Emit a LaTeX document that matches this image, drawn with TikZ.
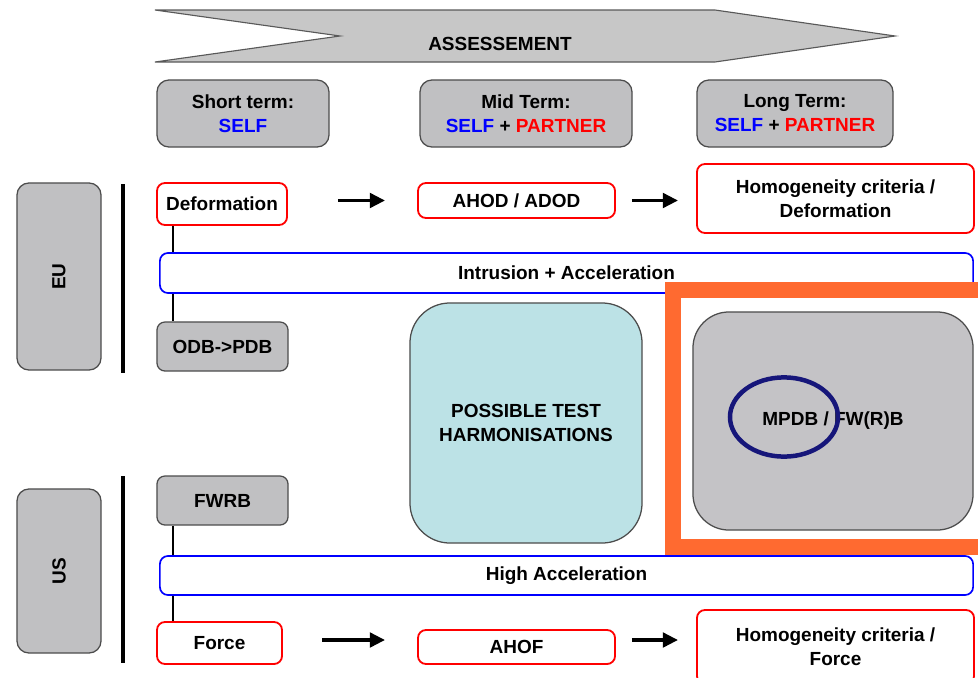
\documentclass[tikz,border=0pt]{standalone}
\usepackage{fontspec}
\setmainfont{Liberation Sans}
\usetikzlibrary{arrows.meta}

\begin{document}
\begin{tikzpicture}[x=0.025cm,y=-0.025cm,
  every node/.style={font=\fontsize{13.5}{17}\selectfont\bfseries, align=center, inner sep=0pt},
  redbox/.style={draw=red, line width=1.3pt, rounded corners=0.2cm, fill=white},
  bluebox/.style={draw=blue, line width=1.2pt, rounded corners=0.2cm, fill=white},
  graybox/.style={draw=black!70, line width=0.9pt, rounded corners=0.3cm, fill=boxgray},
  link/.style={line width=2pt},
  sepline/.style={line width=2.2pt},
  arr/.style={line width=2.6pt, -{Triangle[length=3.8mm,width=3.6mm]}}
]

% Define colors
\definecolor{boxgray}{RGB}{192,192,194}
\definecolor{biggray}{RGB}{196,195,198}
\definecolor{teal1}{RGB}{188,226,230}
\definecolor{frameorange}{RGB}{255,106,48}
\definecolor{navy1}{RGB}{22,22,122}
\definecolor{self}{RGB}{0,0,255}
\definecolor{partner}{RGB}{255,0,0}

\useasboundingbox (0,0) rectangle (978,677);

% Assessment banner
\coordinate (BA) at (155,10);
\coordinate (BB) at (715,10);
\coordinate (BC) at (895,36);
\coordinate (BD) at (715,62);
\coordinate (BE) at (155,62);
\coordinate (BF) at (340,36);
\draw[fill=black!22, draw=black!65, line width=0.8pt] (BA) -- (BB) -- (BC) -- (BD) -- (BE) -- (BF) -- cycle;
\node (assess) at (500,44) {ASSESSEMENT};

% Time scale boxes
\node[graybox, minimum width=4.3cm, minimum height=1.675cm] (short) at (243,113.5) {Short term:\\\textcolor{self}{SELF}};
\node[graybox, minimum width=5.3cm, minimum height=1.675cm] (mid) at (526,113.5) {Mid Term:\\\textcolor{self}{SELF} + \textcolor{partner}{PARTNER}};
\node[graybox, minimum width=4.9cm, minimum height=1.675cm] (long) at (795,113.5) {Long Term:\\\textcolor{self}{SELF} + \textcolor{partner}{PARTNER}};

% EU side
\node[graybox, minimum width=2.1cm, minimum height=4.675cm] (eu) at (59,276.5) {};
\node[rotate=90] (eulabel) at (eu) {EU};
\coordinate (eutop) at (123,184);
\coordinate (eubot) at (123,373);
\draw[sepline] (eutop) -- (eubot);

\node[redbox, minimum width=3.25cm, minimum height=1.05cm] (deform) at (222,204) {Deformation};
\node[redbox, minimum width=4.925cm, minimum height=0.875cm] (ahod) at (516.5,200.5) {AHOD / ADOD};
\node[redbox, minimum width=6.925cm, minimum height=1.725cm] (homdef) at (835.5,198.5) {Homogeneity criteria /\\Deformation};
\node[bluebox, minimum width=20.325cm, minimum height=1cm] (intr) at (566.5,273) {Intrusion + Acceleration};
\node[graybox, rounded corners=0.2cm, minimum width=3.275cm, minimum height=1.225cm] (odb) at (222.5,346.5) {ODB->PDB};

\coordinate (eujoin) at (173,0);
\draw[link] (deform.south -| eujoin) -- (intr.north -| eujoin);
\draw[link] (intr.south -| eujoin) -- (odb.north -| eujoin);

\draw[arr, shorten <=1.25cm, shorten >=0.8cm] (deform.east |- ahod) -- (ahod.west);
\draw[arr, shorten <=0.4cm, shorten >=0.45cm] (ahod.east) -- (ahod.east -| homdef.west);

% Middle blocks
\node[draw=black!70, line width=0.9pt, rounded corners=1cm, fill=teal1,
      minimum width=5.8cm, minimum height=6cm] (harmo) at (526,423) {POSSIBLE TEST\\HARMONISATIONS};
\node[draw=black!70, line width=0.9pt, rounded corners=0.9cm, fill=biggray,
      minimum width=7cm, minimum height=5.45cm] (mpdb) at (833,421) {MPDB / FW(R)B};

% US side
\node[graybox, minimum width=2.1cm, minimum height=4.1cm] (us) at (59,571) {};
\node[rotate=90] (uslabel) at (us) {US};
\coordinate (ustop) at (123,476);
\coordinate (usbot) at (123,663);
\draw[sepline] (ustop) -- (usbot);

\node[graybox, rounded corners=0.2cm, minimum width=3.275cm, minimum height=1.225cm] (fwrb) at (222.5,500.5) {FWRB};
\node[bluebox, minimum width=20.325cm, minimum height=0.975cm] (highacc) at (566.5,575.5) {High Acceleration};
\node[redbox, minimum width=3.125cm, minimum height=1.05cm] (force) at (219.5,643) {Force};
\node[redbox, minimum width=4.925cm, minimum height=0.85cm] (ahof) at (516.5,647) {AHOF};
\node[redbox, minimum width=6.925cm, minimum height=1.85cm] (homforce) at (835.5,647) {Homogeneity criteria /\\Force};

\coordinate (usjoin) at (173,0);
\draw[link] (fwrb.south -| usjoin) -- (highacc.north -| usjoin);
\draw[link] (highacc.south -| usjoin) -- (force.north -| usjoin);

\draw[arr, shorten <=0.98cm, shorten >=0.8cm] (force.east |- 0,640) -- (ahof.west |- 0,640);
\draw[arr, shorten <=0.4cm, shorten >=0.45cm] (ahof.east |- 0,640) -- (homforce.west |- 0,640);

% Highlight
\draw[frameorange, line width=0.4cm] (1000,290) -- (673,290) -- (673,547) -- (1000,547);
\coordinate (mark) at (784,417);
\draw[navy1, line width=3.2pt] (mark) ellipse [x radius=1.35cm, y radius=0.99cm];

\end{tikzpicture}
\end{document}
